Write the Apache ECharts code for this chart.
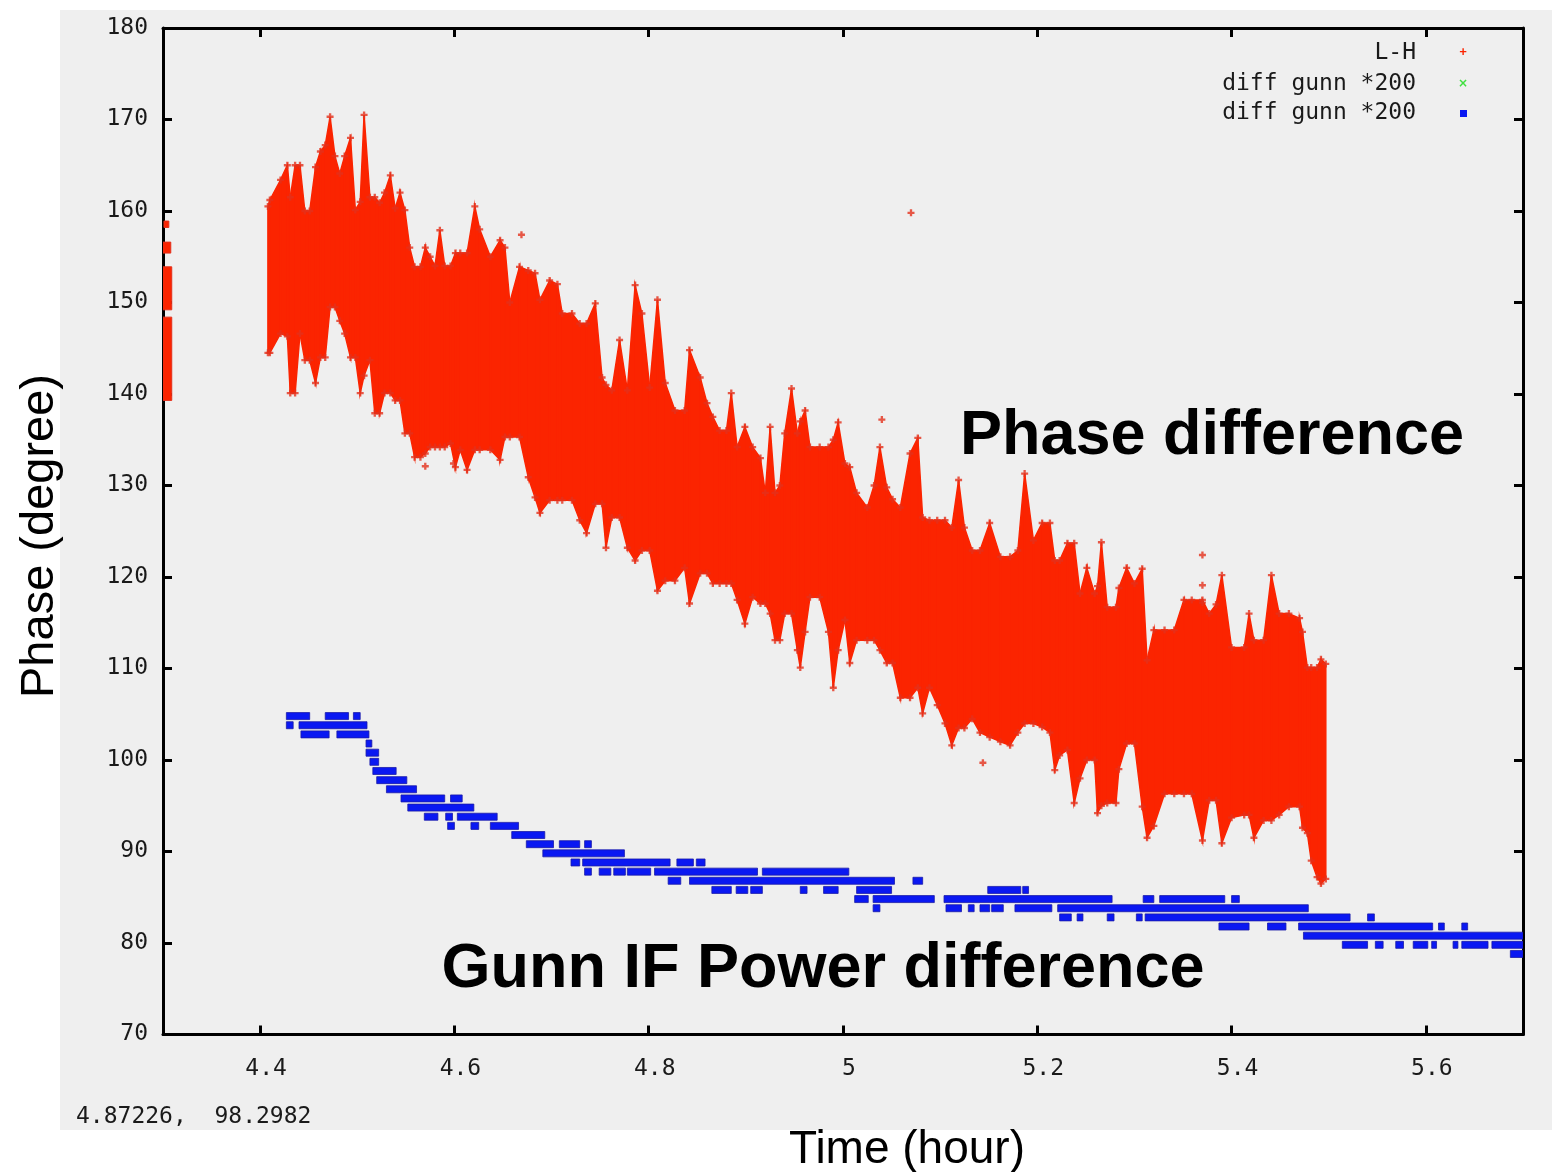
<!DOCTYPE html>
<html>
<head>
<meta charset="utf-8">
<script src="https://cdn.jsdelivr.net/npm/echarts@6/dist/echarts.min.js"></script>
<style>
  html, body { margin: 0; padding: 0; background: #ffffff; }
  #chart { width: 1552px; height: 1172px; }
</style>
</head>
<body>
<div id="chart"></div>
<script>
// ---------------- data ----------------
// x axis ticks (hours)
const xTicks = [4.4, 4.6, 4.8, 5, 5.2, 5.4, 5.6];

// "L-H" phase: dense cloud, described by its lower / upper envelope at sample times
const redT = [
  4.408, 4.410, 4.421, 4.428, 4.431, 4.436, 4.441, 4.446, 4.451, 4.457, 4.462, 4.467, 4.472, 4.477, 4.482, 4.487,
  4.493, 4.498, 4.503, 4.507, 4.513, 4.518, 4.523, 4.528, 4.534, 4.539, 4.544, 4.549, 4.554, 4.559, 4.565, 4.570,
  4.575, 4.580, 4.585, 4.590, 4.596, 4.601, 4.606, 4.613, 4.621, 4.626, 4.637, 4.647, 4.652, 4.657, 4.667, 4.676,
  4.683, 4.688, 4.698, 4.706, 4.711, 4.721, 4.729, 4.736, 4.745, 4.752, 4.756, 4.762, 4.770, 4.778, 4.786, 4.793,
  4.801, 4.809, 4.817, 4.827, 4.837, 4.842, 4.853, 4.860, 4.866, 4.873, 4.880, 4.885, 4.891, 4.899, 4.907, 4.915,
  4.920, 4.925, 4.930, 4.935, 4.940, 4.947, 4.953, 4.956, 4.961, 4.966, 4.976, 4.985, 4.990, 4.995, 5.002, 5.007,
  5.014, 5.025, 5.032, 5.038, 5.045, 5.051, 5.059, 5.069, 5.077, 5.082, 5.089, 5.097, 5.105, 5.112, 5.119, 5.125,
  5.133, 5.141, 5.151, 5.162, 5.172, 5.180, 5.187, 5.196, 5.205, 5.213, 5.218, 5.223, 5.231, 5.238, 5.244, 5.251,
  5.259, 5.262, 5.266, 5.272, 5.281, 5.284, 5.292, 5.300, 5.308, 5.313, 5.320, 5.331, 5.341, 5.351, 5.359, 5.370,
  5.377, 5.384, 5.390, 5.400, 5.413, 5.418, 5.423, 5.433, 5.441, 5.449, 5.459, 5.470, 5.473, 5.478, 5.482, 5.488,
  5.492, 5.497
];
const redHi = [
  160.5, 161.2, 163.4, 165.0, 161.5, 165.0, 165.0, 160.0, 160.0, 164.8, 166.5, 167.2, 170.3, 166.0, 164.1, 166.0,
  168.0, 160.1, 161.0, 170.5, 161.5, 161.5, 160.9, 162.0, 163.9, 160.3, 162.0, 160.1, 156.0, 153.9, 153.9, 156.0,
  155.0, 154.0, 157.9, 154.0, 154.0, 155.4, 155.4, 155.4, 160.5, 158.0, 155.0, 156.8, 156.0, 150.0, 153.9, 153.5,
  153.2, 150.3, 152.4, 152.0, 148.8, 148.8, 147.7, 147.7, 149.9, 141.8, 141.0, 140.4, 145.9, 140.4, 151.9, 148.8,
  140.7, 150.3, 141.2, 138.2, 138.2, 144.8, 141.8, 139.0, 137.5, 136.0, 136.0, 140.1, 134.2, 136.4, 134.2, 133.0,
  129.2, 136.4, 129.2, 130.0, 135.7, 140.6, 135.7, 137.0, 138.2, 134.2, 134.2, 134.2, 135.0, 136.9, 132.4, 132.0,
  129.2, 127.6, 130.0, 134.2, 129.8, 128.5, 127.6, 133.5, 135.2, 126.5, 126.2, 126.2, 126.2, 125.4, 130.6, 125.4,
  122.9, 122.9, 125.9, 122.2, 122.2, 122.9, 131.3, 124.0, 125.9, 125.9, 121.8, 121.8, 123.7, 123.7, 118.2, 121.0,
  118.2, 119.0, 123.8, 116.7, 116.7, 118.8, 121.0, 119.3, 120.9, 110.9, 114.2, 114.2, 114.2, 117.5, 117.5, 117.5,
  116.0, 117.0, 120.2, 112.3, 112.3, 116.0, 113.1, 113.1, 120.2, 116.0, 116.0, 115.5, 114.0, 110.1, 110.1, 110.1,
  111.0, 110.5
];
const redLo = [
  144.5, 144.5, 146.6, 146.3, 140.1, 140.1, 146.6, 143.7, 143.7, 141.2, 144.0, 144.0, 149.5, 149.5, 148.0, 146.6,
  144.0, 144.0, 140.1, 142.0, 143.7, 137.9, 137.9, 140.1, 140.1, 139.3, 139.3, 135.7, 135.7, 133.1, 133.1, 133.5,
  134.2, 134.2, 134.2, 134.2, 134.6, 132.0, 133.9, 131.7, 133.9, 133.9, 133.9, 132.8, 135.3, 135.3, 135.3, 130.9,
  128.7, 127.0, 128.4, 128.4, 128.4, 128.4, 126.2, 124.8, 128.0, 128.0, 123.2, 126.5, 126.5, 123.2, 121.8, 122.9,
  122.9, 118.5, 119.6, 119.6, 121.0, 117.1, 120.4, 120.4, 119.3, 119.3, 119.3, 119.3, 117.5, 114.9, 117.8, 117.1,
  117.1, 116.0, 113.1, 113.1, 116.0, 116.0, 112.0, 110.1, 114.0, 117.8, 117.8, 114.0, 107.9, 112.0, 115.3, 110.6,
  113.1, 113.1, 113.1, 112.0, 110.6, 110.6, 106.8, 106.8, 107.9, 105.1, 107.9, 106.0, 104.0, 101.6, 103.5, 103.5,
  104.5, 103.0, 102.5, 102.0, 101.6, 103.0, 104.0, 104.0, 103.6, 103.0, 98.9, 100.5, 101.1, 95.3, 98.0, 100.0,
  100.0, 94.2, 95.0, 95.3, 95.3, 99.0, 101.8, 101.8, 94.9, 91.5, 92.8, 96.3, 96.3, 96.3, 96.3, 91.2,
  95.6, 95.6, 90.9, 93.7, 94.0, 94.0, 91.5, 93.4, 93.4, 94.0, 94.9, 94.9, 92.6, 92.0, 89.0, 87.2,
  86.5, 87.0
];
// short burst of L-H points at the very start of the axis: [tStart, tEnd, low, high]
const redStrips = [
  [4.300, 4.309, 139.3, 148.4],
  [4.300, 4.309, 149.2, 153.9],
  [4.300, 4.308, 155.4, 156.6],
  [4.301, 4.306, 158.2, 158.9]
];
// isolated L-H points
const redOutliers = [
  [5.070, 159.8], [4.570, 132.1], [4.599, 132.4], [4.669, 157.4], [5.040, 137.2],
  [5.144, 99.7], [5.370, 122.4], [5.370, 119.1], [5.370, 117.2]
];

// "diff gunn *200": quantised levels, each with the time spans where points sit on it
const blueLevels = [104.8, 103.8, 102.8, 101.8, 100.8, 99.8, 98.8, 97.8, 96.8, 95.8, 94.8, 93.8, 92.8, 91.8,
  90.8, 89.8, 88.8, 87.8, 86.8, 85.8, 84.8, 83.8, 82.8, 81.8, 80.8, 79.8, 78.8];
const blueSpans = [
  [[4.427, 4.451], [4.467, 4.491], [4.496, 4.503]],
  [[4.427, 4.434], [4.440, 4.510]],
  [[4.442, 4.471], [4.479, 4.512]],
  [[4.509, 4.515]],
  [[4.509, 4.522]],
  [[4.513, 4.522]],
  [[4.516, 4.540]],
  [[4.520, 4.551]],
  [[4.530, 4.561]],
  [[4.545, 4.590], [4.596, 4.608]],
  [[4.552, 4.620]],
  [[4.569, 4.583], [4.591, 4.598], [4.603, 4.644]],
  [[4.593, 4.600], [4.617, 4.625], [4.637, 4.666]],
  [[4.659, 4.693]],
  [[4.674, 4.702], [4.708, 4.729], [4.734, 4.741]],
  [[4.691, 4.775]],
  [[4.720, 4.729], [4.732, 4.822], [4.829, 4.846], [4.849, 4.858]],
  [[4.734, 4.741], [4.749, 4.761], [4.764, 4.776], [4.778, 4.802], [4.806, 4.912], [4.917, 5.006]],
  [[4.820, 4.833], [4.842, 5.053], [5.072, 5.082]],
  [[4.865, 4.885], [4.890, 4.902], [4.905, 4.917], [4.956, 4.963], [4.980, 4.995], [5.014, 5.050], [5.149, 5.183], [5.185, 5.191]],
  [[5.012, 5.026], [5.031, 5.094], [5.104, 5.277], [5.309, 5.320], [5.326, 5.393], [5.400, 5.408]],
  [[5.031, 5.038], [5.106, 5.122], [5.129, 5.135], [5.141, 5.151], [5.153, 5.165], [5.177, 5.215], [5.221, 5.479]],
  [[5.223, 5.235], [5.241, 5.247], [5.272, 5.279], [5.302, 5.308], [5.311, 5.522], [5.540, 5.547]],
  [[5.387, 5.418], [5.437, 5.456], [5.469, 5.607], [5.613, 5.619], [5.637, 5.643]],
  [[5.474, 5.700]],
  [[5.514, 5.540], [5.548, 5.556], [5.569, 5.577], [5.587, 5.602], [5.606, 5.611], [5.628, 5.633], [5.637, 5.664], [5.668, 5.700]],
  [[5.687, 5.700]]
];

const legendLabels = ['L-H', 'diff gunn *200', 'diff gunn *200'];
const cursorReadout = '4.87226,  98.2982';

// ---------------- styling ----------------
const RED = '#fb2400';
const RED_EDGE = '#e3311c';
const BLUE = '#0a18f2';
const BLUE_EDGE = '#1a1aa8';
const GREEN = '#40e040';
const BG = '#efefef';
const TICK_FONT = 'DejaVu Sans Mono';
const PLUS = 'path://M2,0H4V2H6V4H4V6H2V4H0V2H2Z';

// ---------------- build series data ----------------
const redBandData = redT.map((t, i) => [t, redLo[i], redHi[i]]);
const redEdgePoints = redT.map((t, i) => [t, redHi[i]]).concat(redT.map((t, i) => [t, redLo[i]]));
const blueData = [];
blueSpans.forEach((spans, k) => spans.forEach(s => blueData.push([s[0], s[1], blueLevels[k]])));

const chart = echarts.init(document.getElementById('chart'), null, { renderer: 'canvas' });

const axisLineStyle = { color: '#000', width: 3 };
const tickStyle = { color: '#000', width: 3 };

const option = {
  backgroundColor: '#ffffff',
  animation: false,
  grid: { left: 163, right: 29, top: 28, bottom: 137.5, containLabel: false },
  xAxis: [
    {
      type: 'value', min: 4.3, max: 5.7, position: 'bottom',
      axisLine: { show: true, onZero: false, lineStyle: axisLineStyle },
      axisTick: { show: true, inside: true, length: 9, lineStyle: tickStyle, customValues: xTicks },
      axisLabel: { show: true, customValues: xTicks, margin: 23, fontFamily: TICK_FONT, fontSize: 23,
        color: '#1a1a1a', padding: [0, 0, 0, 12] },
      splitLine: { show: false }
    },
    {
      type: 'value', min: 4.3, max: 5.7, position: 'top',
      axisLine: { show: true, onZero: false, lineStyle: axisLineStyle },
      axisTick: { show: true, inside: true, length: 9, lineStyle: tickStyle, customValues: xTicks },
      axisLabel: { show: false },
      splitLine: { show: false }
    }
  ],
  yAxis: [
    {
      type: 'value', min: 70, max: 180, interval: 10, position: 'left',
      axisLine: { show: true, onZero: false, lineStyle: axisLineStyle },
      axisTick: { show: true, inside: true, length: 9, lineStyle: tickStyle },
      axisLabel: { show: true, margin: 15, fontFamily: TICK_FONT, fontSize: 23, color: '#1a1a1a' },
      splitLine: { show: false }
    },
    {
      type: 'value', min: 70, max: 180, interval: 10, position: 'right',
      axisLine: { show: true, onZero: false, lineStyle: axisLineStyle },
      axisTick: { show: true, inside: true, length: 9, lineStyle: tickStyle },
      axisLabel: { show: false },
      splitLine: { show: false }
    }
  ],
  series: [
    {
      name: 'L-H band', type: 'custom', xAxisIndex: 0, yAxisIndex: 0, clip: true, z: 3,
      data: redBandData,
      encode: { x: 0, y: [1, 2] },
      renderItem: function (params, api) {
        const i = params.dataIndex;
        if (i >= redT.length - 1) return null;
        if (redT[i + 1] - redT[i] > 0.03) return null;
        const a = api.coord([redT[i], redHi[i]]);
        const b = api.coord([redT[i + 1], redHi[i + 1]]);
        const c = api.coord([redT[i + 1], redLo[i + 1]]);
        const d = api.coord([redT[i], redLo[i]]);
        return { type: 'polygon', shape: { points: [a, b, c, d] },
          style: { fill: RED, stroke: RED, lineWidth: 1.5 } };
      }
    },
    {
      name: 'L-H edge', type: 'scatter', xAxisIndex: 0, yAxisIndex: 0, z: 4, silent: true,
      symbol: PLUS, symbolSize: 7, itemStyle: { color: RED_EDGE },
      data: redEdgePoints
    },
    {
      name: 'L-H strips', type: 'custom', xAxisIndex: 0, yAxisIndex: 0, clip: true, z: 3,
      data: redStrips,
      encode: { x: [0, 1], y: [2, 3] },
      renderItem: function (params, api) {
        const p1 = api.coord([api.value(0), api.value(3)]);
        const p2 = api.coord([api.value(1), api.value(2)]);
        return { type: 'rect', shape: { x: p1[0], y: p1[1], width: Math.max(2, p2[0] - p1[0]), height: p2[1] - p1[1] },
          style: { fill: RED, stroke: RED_EDGE, lineWidth: 1 } };
      }
    },
    {
      name: 'L-H points', type: 'scatter', xAxisIndex: 0, yAxisIndex: 0, z: 4,
      symbol: PLUS, symbolSize: 7, itemStyle: { color: RED_EDGE },
      data: redOutliers
    },
    {
      name: 'diff gunn', type: 'custom', xAxisIndex: 0, yAxisIndex: 0, clip: true, z: 3,
      data: blueData,
      encode: { x: [0, 1], y: 2 },
      renderItem: function (params, api) {
        const p1 = api.coord([api.value(0), api.value(2)]);
        const p2 = api.coord([api.value(1), api.value(2)]);
        return { type: 'rect', shape: { x: p1[0], y: p1[1] - 3.5, width: Math.max(4, p2[0] - p1[0]), height: 7 },
          style: { fill: BLUE, stroke: BLUE_EDGE, lineWidth: 0.8 } };
      }
    }
  ],
  graphic: [
    { type: 'rect', z: -100, silent: true, shape: { x: 60, y: 10, width: 1492, height: 1120 }, style: { fill: BG } },
    // legend (gnuplot style: right aligned text, marker on the right)
    { type: 'text', z: 50, x: 1416, y: 53, style: { text: legendLabels[0], textAlign: 'right', textVerticalAlign: 'middle',
      font: '23px "DejaVu Sans Mono"', fill: '#1a1a1a' } },
    { type: 'text', z: 50, x: 1416, y: 84, style: { text: legendLabels[1], textAlign: 'right', textVerticalAlign: 'middle',
      font: '23px "DejaVu Sans Mono"', fill: '#1a1a1a' } },
    { type: 'text', z: 50, x: 1416, y: 113, style: { text: legendLabels[2], textAlign: 'right', textVerticalAlign: 'middle',
      font: '23px "DejaVu Sans Mono"', fill: '#1a1a1a' } },
    { type: 'text', z: 50, x: 1463, y: 53, style: { text: '+', textAlign: 'center', textVerticalAlign: 'middle',
      font: 'bold 12px "DejaVu Sans Mono"', fill: RED } },
    { type: 'text', z: 50, x: 1463, y: 84, style: { text: '×', textAlign: 'center', textVerticalAlign: 'middle',
      font: 'bold 12px "DejaVu Sans"', fill: GREEN } },
    { type: 'rect', z: 50, shape: { x: 1460, y: 110, width: 7, height: 7 }, style: { fill: BLUE } },
    // cursor readout
    { type: 'text', z: 50, x: 76, y: 1117, style: { text: cursorReadout, textAlign: 'left', textVerticalAlign: 'middle',
      font: '23px "DejaVu Sans Mono"', fill: '#1a1a1a' } },
    // axis titles
    { type: 'text', z: 50, x: 907, y: 1150, style: { text: 'Time (hour)', textAlign: 'center', textVerticalAlign: 'middle',
      font: '46px "Liberation Sans", Arial, sans-serif', fill: '#000' } },
    { type: 'text', z: 50, x: 40, y: 536, rotation: Math.PI / 2, style: { text: 'Phase (degree)', textAlign: 'center',
      textVerticalAlign: 'middle', font: '47px "Liberation Sans", Arial, sans-serif', fill: '#000' } },
    // annotations
    { type: 'text', z: 50, x: 1212, y: 437, style: { text: 'Phase difference', textAlign: 'center', textVerticalAlign: 'middle',
      font: 'bold 63px "Liberation Sans", Arial, sans-serif', fill: '#000' } },
    { type: 'text', z: 50, x: 823, y: 970, style: { text: 'Gunn IF Power difference', textAlign: 'center', textVerticalAlign: 'middle',
      font: 'bold 63px "Liberation Sans", Arial, sans-serif', fill: '#000' } }
  ]
};

chart.setOption(option);
</script>
</body>
</html>
